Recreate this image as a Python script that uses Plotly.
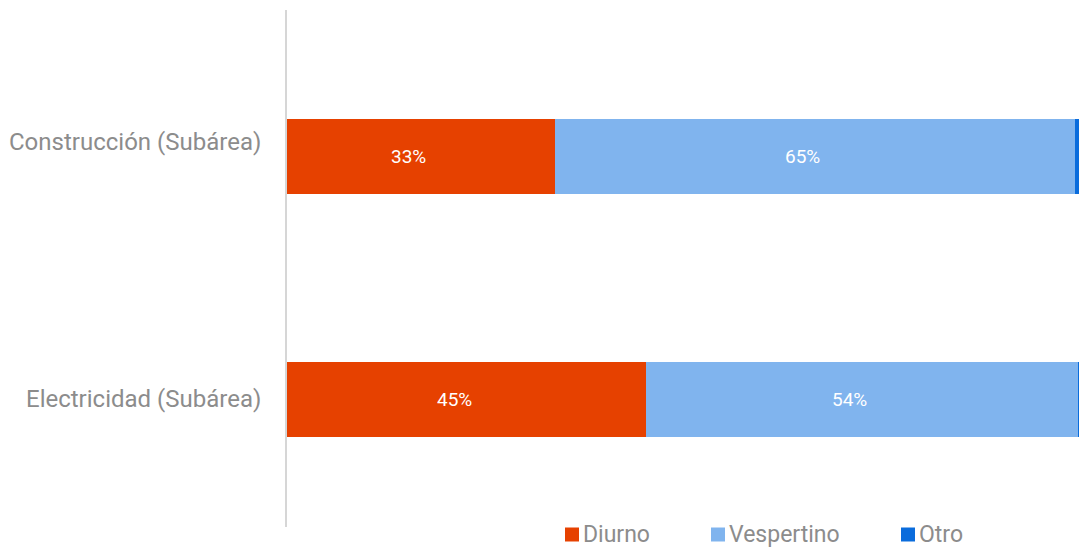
import math
import plotly.graph_objects as go

# ---- data ----
categories = ["Construcción (Subárea)", "Electricidad (Subárea)"]
series_names = ["Diurno", "Vespertino", "Otro"]
diurno = [33.8, 45.3]
vespertino = [65.7, 54.6]
otro = [0.5, 0.1]
colors = ["#E64100", "#80B4EE", "#0A6CDC"]

series_values = [diurno, vespertino, otro]

W, H = 1079, 548
L, R, T, B = 287, 0, 10, 21
PW, PH = W - L - R, H - T - B
TEXT_GREY = "#8C8C8C"

def px_x(p):
    return (p - L) / PW

def px_y(p):
    return (H - B - p) / PH

fig = go.Figure()
for name, vals, col in zip(series_names, series_values, colors):
    fig.add_trace(go.Bar(
        y=categories, x=vals, name=name, orientation="h",
        marker=dict(color=col, line=dict(width=0)),
        width=0.309, showlegend=False, hoverinfo="x+name",
    ))

annotations = []
# value labels (skip tiny "Otro")
for ci, cat in enumerate(categories):
    start = 0.0
    for si, vals in enumerate(series_values):
        v = vals[ci]
        if v >= 5:
            annotations.append(dict(
                x=start + v / 2, y=cat, xref="x", yref="y",
                text=f"{int(math.floor(v))}%", showarrow=False,
                xshift=-12, font=dict(family="Roboto", size=19, color="#FFFFFF"),
            ))
        start += v

# category labels
cat_yshift = [15, 0]
for cat, ys in zip(categories, cat_yshift):
    annotations.append(dict(
        x=0, y=cat, xref="paper", yref="y", xanchor="right", yanchor="middle",
        xshift=-24, yshift=ys, text=cat, showarrow=False,
        font=dict(family="Roboto", size=24, color=TEXT_GREY),
    ))

# custom legend
legend_sq_x = [565, 711, 901]
for name, col, sx in zip(series_names, colors, legend_sq_x):
    fig.add_shape(type="rect", xref="paper", yref="paper",
                  x0=px_x(sx), x1=px_x(sx + 14), y0=px_y(541.5), y1=px_y(527.5),
                  fillcolor=col, line=dict(width=0), layer="above")
    annotations.append(dict(
        x=px_x(sx + 16), y=px_y(534.5), xref="paper", yref="paper",
        xanchor="left", yanchor="middle", text=name, showarrow=False,
        font=dict(family="Roboto", size=23, color=TEXT_GREY),
    ))

fig.update_layout(
    width=W, height=H,
    margin=dict(l=L, r=R, t=T, b=B, pad=0),
    barmode="stack",
    plot_bgcolor="#FFFFFF", paper_bgcolor="#FFFFFF",
    font=dict(family="Roboto", color=TEXT_GREY),
    annotations=annotations,
    xaxis=dict(visible=False, range=[0, 100], fixedrange=True),
    yaxis=dict(
        type="category", categoryorder="array", categoryarray=categories,
        range=[1.525, -0.603], showgrid=False, zeroline=False,
        showline=True, linecolor="#D6D6D6", linewidth=2,
        ticks="", showticklabels=False,
        fixedrange=True,
    ),
)

fig.write_html("out.html")
